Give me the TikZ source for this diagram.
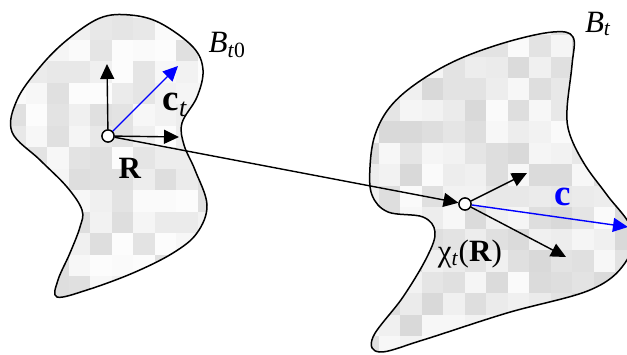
\documentclass[tikz,border=0pt]{standalone}
\usepackage{fontspec}
\setmainfont{Liberation Serif}
\usetikzlibrary{arrows.meta}
\begin{document}
\begin{tikzpicture}[x=1pt,y=-1pt,
  outline/.style={line width=1.5pt},
  vec/.style={line width=1.4pt,-{Triangle[length=15pt,width=14pt]}},
  bvec/.style={vec,blue},
  pt/.style={circle,draw,line width=1.3pt,fill=white,inner sep=0pt,minimum size=12pt},
  lbl/.style={inner sep=0pt,font=\fontsize{31}{34}\selectfont},
  big/.style={inner sep=0pt,font=\fontsize{37}{40}\selectfont}]
\useasboundingbox (0,0) rectangle (627,355);
\def\leftshape{plot[smooth cycle,tension=0.6] coordinates {(12,132) (17,100) (40,67) (67,40) (100,18) (130,15) (160,23) (193,47) (203,70) (197,97) (182,123) (184,145) (195,170) (207,205) (197,233) (173,253) (133,273) (87,290) (57,297) (58,280) (70,253) (80,227) (82,210) (67,187) (40,160)}}
\def\rightshape{plot[smooth cycle,tension=0.6] coordinates {(573,37) (553,32) (507,42) (457,60) (417,83) (390,107) (375,135) (370,167) (372,195) (388,212) (423,217) (435,232) (427,257) (403,297) (373,337) (380,352) (423,340) (507,313) (590,290) (625,263) (632,230) (607,195) (585,165) (570,135) (567,110) (572,65)}}
\pgfmathsetseed{7}
\begin{scope}
  \clip \leftshape;
  \foreach \i in {0,...,10} \foreach \j in {0,...,14} {
    \pgfmathtruncatemacro\g{1+13*rnd}
    \fill[black!\g] (4+\i*21.5,-3+\j*21.5) rectangle ++(21.6,21.6);
  }
\end{scope}
\begin{scope}
  \clip \rightshape;
  \foreach \i in {0,...,12} \foreach \j in {0,...,17} {
    \pgfmathtruncatemacro\g{2+14*rnd}
    \fill[black!\g] (357+\i*21.5,-7.5+\j*21.5) rectangle ++(21.6,21.6);
  }
\end{scope}
\draw[outline] \leftshape;
\draw[outline] \rightshape;
% points
\node[pt] (R) at (108,136) {};
\node[pt] (X) at (465,204) {};
\coordinate (Rup) at (107,64);
\coordinate (Rright) at (179,137);
\coordinate (Rc) at (178,66);
\coordinate (Xup) at (527,173);
\coordinate (Xdown) at (566,257);
\coordinate (Xc) at (628,227);
\draw[vec] (R) -- (Rup);
\draw[vec] (R) -- (Rright);
\draw[bvec] (R) -- (Rc);
\draw[vec] (R) -- (X);
\draw[vec] (X) -- (Xup);
\draw[vec] (X) -- (Xdown);
\draw[bvec] (X) -- (Xc);
\node[pt] at (R) {};
\node[pt] at (X) {};
% labels
\node[lbl] (Bt0) at (227,45) {\textit{B}\textsubscript{\textit{t}0}};
\node[lbl] (Bt) at (598,24) {\textit{B}\textsubscript{\textit{t}}};
\node[big] (ct) at (175,105) {\textbf{c}\textsubscript{\textit{t}}};
\node[lbl] (Rl) at (130,168) {\textbf{R}};
\node[big,text=blue] (cl) at (563,197) {\textbf{c}};
\node[lbl] (chi) at (470,254) {χ\textsubscript{\textit{t}}(\textbf{R})};
\end{tikzpicture}
\end{document}
